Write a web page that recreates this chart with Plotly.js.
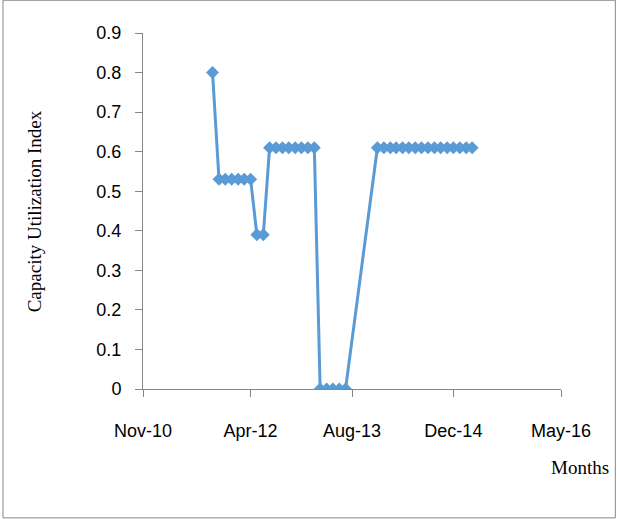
<!DOCTYPE html>
<html>
<head>
<script src="https://cdn.plot.ly/plotly-3.0.1.min.js"></script>
<style>body{margin:0}#chart{width:617px;height:519px}</style>
</head>
<body>
<div id="chart"></div>
<script>
// monthly observations, Oct 2011 .. Jul 2013 and Dec 2013 .. Mar 2015
const months = [
  '2011-10-01','2011-11-01','2011-12-01','2012-01-01','2012-02-01','2012-03-01','2012-04-01',
  '2012-05-01','2012-06-01',
  '2012-07-01','2012-08-01','2012-09-01','2012-10-01','2012-11-01','2012-12-01','2013-01-01','2013-02-01',
  '2013-03-01','2013-04-01','2013-05-01','2013-06-01','2013-07-01',
  '2013-12-01','2014-01-01','2014-02-01','2014-03-01','2014-04-01','2014-05-01','2014-06-01','2014-07-01',
  '2014-08-01','2014-09-01','2014-10-01','2014-11-01','2014-12-01','2015-01-01','2015-02-01','2015-03-01'
];
const utilization = [
  0.8, 0.53, 0.53, 0.53, 0.53, 0.53, 0.53,
  0.39, 0.39,
  0.61, 0.61, 0.61, 0.61, 0.61, 0.61, 0.61, 0.61,
  0, 0, 0, 0, 0,
  0.61, 0.61, 0.61, 0.61, 0.61, 0.61, 0.61, 0.61,
  0.61, 0.61, 0.61, 0.61, 0.61, 0.61, 0.61, 0.61
];
const tickDates = ['2010-11-01','2012-04-01','2013-08-01','2014-12-01','2016-05-01'];
const tickLabels = ['Nov-10','Apr-12','Aug-13','Dec-14','May-16'];

const blue = '#5b9bd5';
const tickFont = {family: 'Liberation Sans, Arial', size: 18, color: '#000'};
const serif = {family: 'Liberation Serif, Times New Roman', size: 19, color: '#000'};

Plotly.newPlot('chart', [{
  x: months, y: utilization, type: 'scatter', mode: 'lines+markers',
  line: {color: blue, width: 3},
  marker: {symbol: 'diamond', size: 10, color: blue}
}], {
  width: 617, height: 519,
  margin: {l: 143, r: 56, t: 33, b: 130},
  showlegend: false,
  plot_bgcolor: '#fff', paper_bgcolor: '#fff',
  xaxis: {
    type: 'date', range: ['2010-11-01', '2016-05-01'],
    tickmode: 'array', tickvals: tickDates, ticktext: tickLabels,
    showgrid: false, zeroline: false, showline: true, linecolor: '#868686', linewidth: 1,
    ticks: 'outside', ticklen: 7, tickcolor: '#868686',
    ticklabelstandoff: 18,
    tickfont: tickFont
  },
  yaxis: {
    range: [0, 0.9], dtick: 0.1, tickformat: '.1~f',
    showgrid: false, zeroline: false, showline: true, linecolor: '#868686', linewidth: 1,
    ticks: 'outside', ticklen: 7, tickcolor: '#868686',
    ticklabelstandoff: 10,
    tickfont: tickFont
  },
  annotations: [{
    text: 'Capacity Utilization Index', xref: 'paper', yref: 'paper', x: -0.26, y: 0.5,
    xanchor: 'center', yanchor: 'middle', textangle: -90, showarrow: false, font: serif
  }, {
    text: 'Months', xref: 'paper', yref: 'paper', x: 1.12, y: -0.22,
    xanchor: 'right', yanchor: 'middle', showarrow: false, font: serif
  }],
  shapes: [{
    type: 'rect', xref: 'paper', yref: 'paper', x0: -0.335, x1: 1.13, y0: -0.362, y1: 1.092,
    line: {color: '#868686', width: 1}
  }]
}, {displayModeBar: false});
</script>
</body>
</html>
